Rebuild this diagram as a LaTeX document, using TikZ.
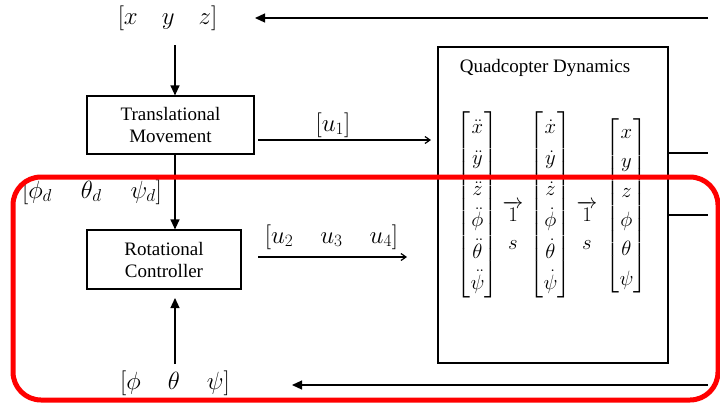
\documentclass[tikz,border=0pt]{standalone}
\usepackage{amsmath}
\usepackage{fontspec}
\setmainfont{Liberation Serif}
\newfontfamily\tnr{Liberation Serif}
\usetikzlibrary{arrows.meta}
\begin{document}
\begin{tikzpicture}[x=1pt,y=-1pt,
  every node/.style={font=\tnr\fontsize{19}{22}\selectfont, inner sep=0pt},
  blk/.style={draw, line width=1.2pt, align=center},
  conn/.style={line width=1.2pt},
  tri/.style={conn, -{Triangle[length=10pt,width=9pt]}},
  small/.style={conn, -{Straight Barb[length=5pt,width=7pt]}},
  lbl/.style={font=\fontsize{24}{26}\selectfont},
  mat/.style={font=\fontsize{22}{22}\selectfont}]
\useasboundingbox (0,0) rectangle (720,405);

% blocks
\node[blk, minimum width=167pt, minimum height=58pt] (trans) at (170.5,125) {Translational\\Movement};
\node[blk, minimum width=154pt, minimum height=59pt] (rot) at (164,259.5) {Rotational\\Controller};
\node[blk, minimum width=230pt, minimum height=316pt] (dyn) at (553,205) {};
\node (title) at (545,68) {Quadcopter Dynamics};

% labels
\node[lbl] (xyz) at (167.5,18) {$[x\hspace{24pt}y\hspace{24pt}z]$};
\node[lbl] (u1) at (333,125) {$[u_1]$};
\node[lbl] (u234) at (331.5,237) {$[u_2\hspace{27pt}u_3\hspace{27pt}u_4]$};
\node[lbl] (ref) at (92,192) {$[\phi_d\hspace{29pt}\theta_d\hspace{29pt}\psi_d]$};
\node[lbl] (att) at (175,383) {$[\phi\hspace{27pt}\theta\hspace{27pt}\psi]$};

% matrices
\node[mat] (m1) at (477.5,205) {$\renewcommand{\arraystretch}{1.42}\begin{bmatrix}\ddot{x}\\ \ddot{y}\\ \ddot{z}\\ \ddot{\phi}\\ \ddot{\theta}\\ \ddot{\psi}\end{bmatrix}$};
\node[mat] (m2) at (550.5,205) {$\renewcommand{\arraystretch}{1.42}\begin{bmatrix}\dot{x}\\ \dot{y}\\ \dot{z}\\ \dot{\phi}\\ \dot{\theta}\\ \dot{\psi}\end{bmatrix}$};
\node[mat] (m3) at (626.5,206) {$\renewcommand{\arraystretch}{1.33}\begin{bmatrix}x\\ y\\ z\\ \phi\\ \theta\\ \psi\end{bmatrix}$};
\node[mat] (i1a) at (513,211) {$\overrightarrow{1}$};
\node[mat] (i1b) at (513,245) {$s$};
\node[mat] (i2a) at (587,211) {$\overrightarrow{1}$};
\node[mat] (i2b) at (587,245) {$s$};

% connector end points
\coordinate (topR) at (708,18);
\coordinate (topL) at (255,18);
\coordinate (xyzS) at (175,45);
\coordinate (u1s) at (258,140);
\coordinate (u1e) at (431,140);
\coordinate (u2s) at (258,257);
\coordinate (u2e) at (407,257);
\coordinate (attN) at (175,364);
\coordinate (rotB) at (175,298);
\coordinate (botR) at (708,385);
\coordinate (botL) at (292,385);
\coordinate (outA) at (708,153);
\coordinate (outB) at (708,215);

% connectors
\draw[tri] (topR) -- (topL);
\draw[tri] (xyzS) -- (trans.north -| xyzS);
\draw[tri] (trans.south -| xyzS) -- (rot.north -| xyzS);
\draw[small] (u1s) -- (u1e);
\draw[small] (u2s) -- (u2e);
\draw[tri] (attN) -- (rotB);
\draw[tri] (botR) -- (botL);
\draw[conn] (dyn.east |- outA) -- (outA);
\draw[conn] (dyn.east |- outB) -- (outB);

% red highlight
\draw[red, line width=5pt, rounded corners=28pt] (13,177) rectangle (718,400);
\end{tikzpicture}
\end{document}
